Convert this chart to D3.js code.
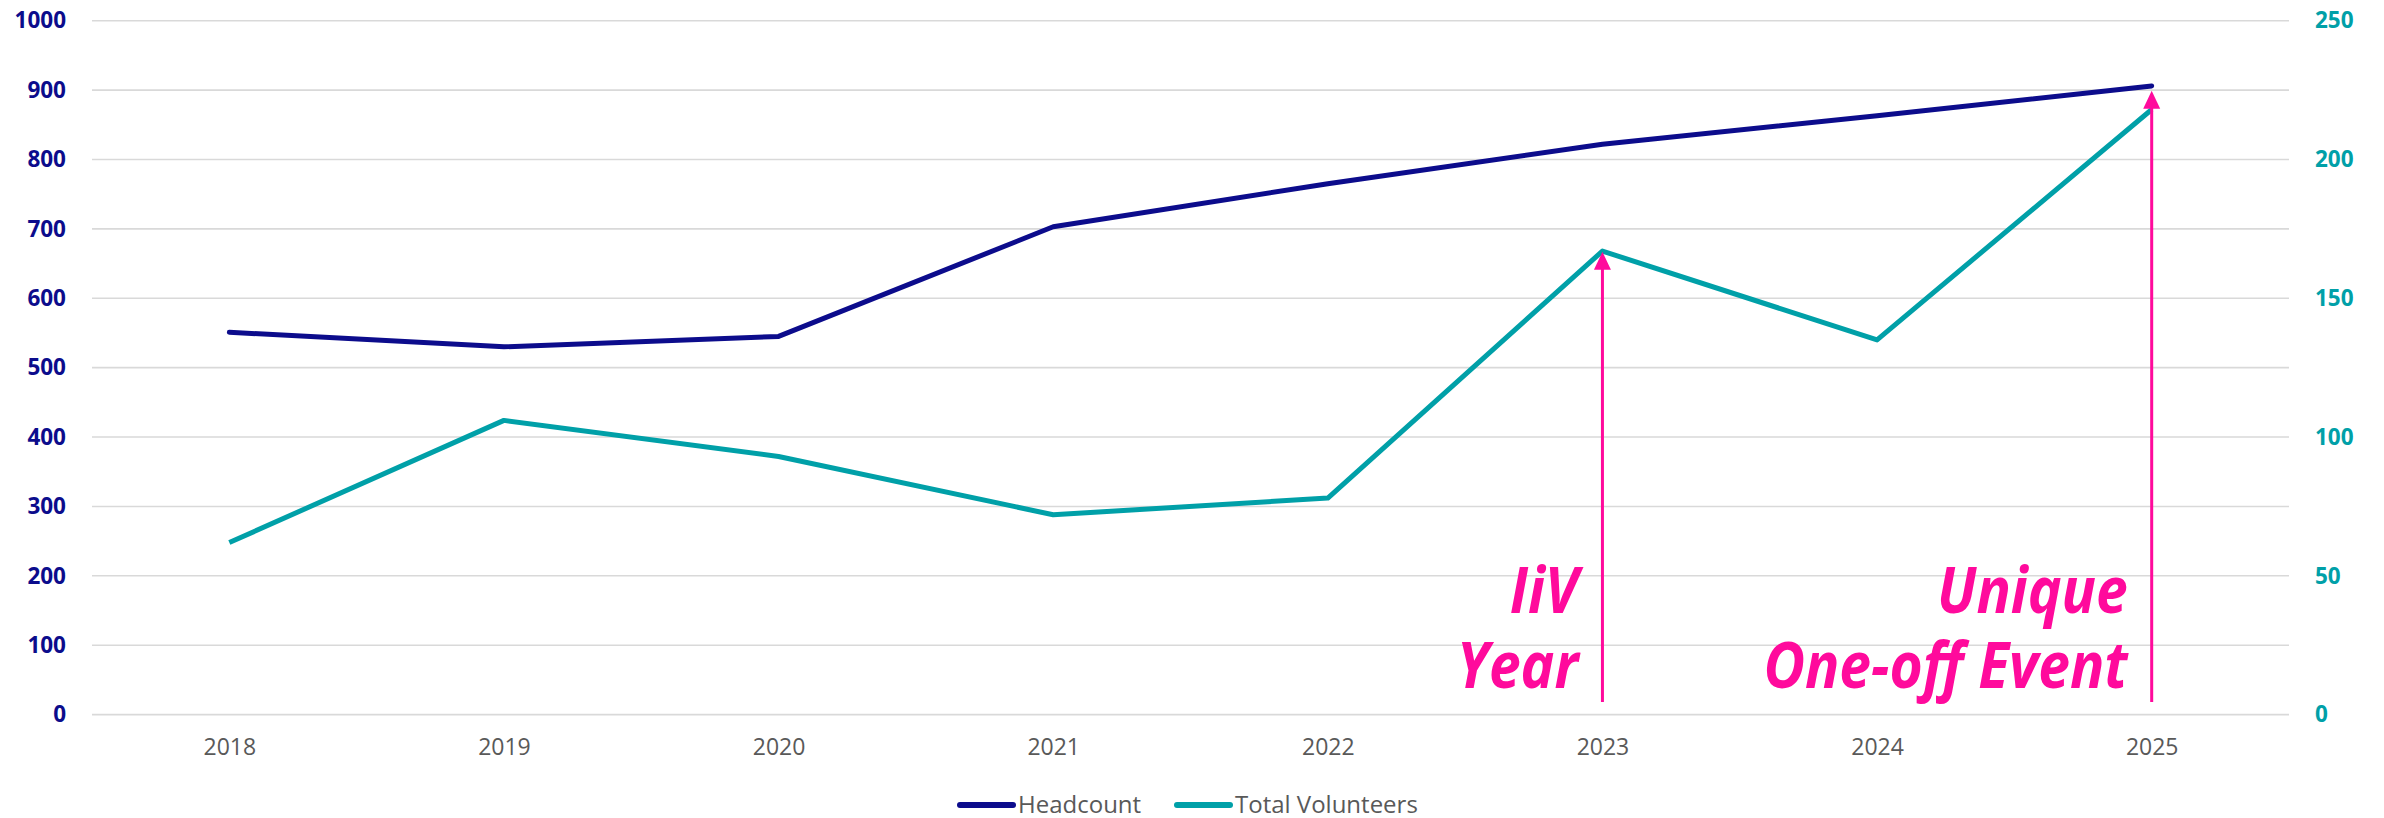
<!DOCTYPE html>
<html>
<head>
<meta charset="utf-8">
<script src="https://cdn.jsdelivr.net/npm/d3@7"></script>
<style>
  html, body { margin: 0; padding: 0; background: #fff; }
  svg { display: block; font-family: "Open Sans", sans-serif; }
</style>
</head>
<body>
<svg id="chart" width="2384" height="818"></svg>
<script>
// data
const years = ['2018', '2019', '2020', '2021', '2022', '2023', '2024', '2025'];
const headcount = [551, 530, 545, 703, 765, 822, 863, 906];
const volunteers = [62, 106, 93, 72, 78, 167, 135, 218];
const leftTicks = [0, 100, 200, 300, 400, 500, 600, 700, 800, 900, 1000];
const rightTicks = [0, 50, 100, 150, 200, 250];
const seriesNames = ['Headcount', 'Total Volunteers'];
// annotations: year, arrow tip (left axis units), arrow base, two text lines
const annoYears = ['2023', '2025'];
const annoTips = [667, 899];
const annoBase = 18;
const annoLines = [['IiV', 'Year'], ['Unique', 'One-off Event']];

const navy = '#0c0c8c', teal = '#00a0a8', pink = '#ff0a9c';

const plot = {left: 92, right: 2289, top: 20.7, bottom: 714.6};

const svg = d3.select('#chart');

const x = d3.scalePoint().domain(years).range([plot.left, plot.right]).padding(0.5);
const yL = d3.scaleLinear().domain([0, 1000]).range([plot.bottom, plot.top]);
const yR = d3.scaleLinear().domain([0, 250]).range([plot.bottom, plot.top]);

// gridlines
svg.append('g')
  .selectAll('line')
  .data(leftTicks)
  .join('line')
  .attr('x1', plot.left).attr('x2', plot.right)
  .attr('y1', d => yL(d)).attr('y2', d => yL(d))
  .attr('stroke', '#d9d9d9')
  .attr('stroke-width', 1.6);

// left axis
const axL = svg.append('g')
  .attr('transform', `translate(${plot.left - 26},0)`)
  .call(d3.axisLeft(yL).tickValues(leftTicks).tickFormat(d3.format('d')).tickSize(0).tickPadding(0));
axL.select('.domain').remove();
axL.selectAll('text')
  .attr('fill', navy)
  .attr('font-size', 22.5)
  .attr('font-weight', 700)
  .attr('font-family', '"Open Sans", sans-serif');

// right axis
const axR = svg.append('g')
  .attr('transform', `translate(${plot.right + 26},0)`)
  .call(d3.axisRight(yR).tickValues(rightTicks).tickFormat(d3.format('d')).tickSize(0).tickPadding(0));
axR.select('.domain').remove();
axR.selectAll('text')
  .attr('fill', teal)
  .attr('font-size', 22.5)
  .attr('font-weight', 700)
  .attr('font-family', '"Open Sans", sans-serif');

// x axis
const axX = svg.append('g')
  .attr('transform', `translate(0,${plot.bottom})`)
  .call(d3.axisBottom(x).tickSize(0).tickPadding(24));
axX.select('.domain').remove();
axX.selectAll('text')
  .attr('fill', '#595959')
  .attr('font-size', 23)
  .attr('font-family', '"Open Sans", sans-serif');

// lines
const lineL = d3.line().x((d, i) => x(years[i])).y(d => yL(d));
const lineR = d3.line().x((d, i) => x(years[i])).y(d => yR(d));

svg.append('path')
  .attr('d', lineR(volunteers))
  .attr('fill', 'none')
  .attr('stroke', teal)
  .attr('stroke-width', 5)
  .attr('stroke-linejoin', 'round');

svg.append('path')
  .attr('d', lineL(headcount))
  .attr('fill', 'none')
  .attr('stroke', navy)
  .attr('stroke-width', 5)
  .attr('stroke-linecap', 'round')
  .attr('stroke-linejoin', 'round');

// arrows + labels
const anno = svg.append('g');
annoYears.forEach((yr, i) => {
  const ax = x(yr);
  const tip = yL(annoTips[i]);
  anno.append('line')
    .attr('x1', ax).attr('x2', ax)
    .attr('y1', yL(annoBase)).attr('y2', tip + 8)
    .attr('stroke', pink)
    .attr('stroke-width', 3);
  anno.append('path')
    .attr('d', `M${ax - 8.5},${tip + 18} L${ax},${tip} L${ax + 8.5},${tip + 18} Z`)
    .attr('fill', pink);
  annoLines[i].forEach((t, j) => {
    anno.append('text')
      .attr('transform', `translate(${ax - 24},${612.5 + j * 75.5}) scale(0.89,1)`)
      .attr('text-anchor', 'end')
      .attr('fill', pink)
      .attr('font-size', 64)
      .attr('font-weight', 700)
      .attr('font-style', 'italic')
      .text(t);
  });
});

// legend
const legX = [958, 1175];
const leg = svg.append('g');
seriesNames.forEach((name, i) => {
  const g = leg.append('g').attr('transform', `translate(${legX[i]},805)`);
  g.append('line')
    .attr('x1', 2).attr('x2', 55)
    .attr('stroke', i === 0 ? navy : teal)
    .attr('stroke-width', 6)
    .attr('stroke-linecap', 'round');
  g.append('text')
    .attr('x', 60).attr('y', 8)
    .attr('fill', '#595959')
    .attr('font-size', 24)
    .text(name);
});
</script>
</body>
</html>
